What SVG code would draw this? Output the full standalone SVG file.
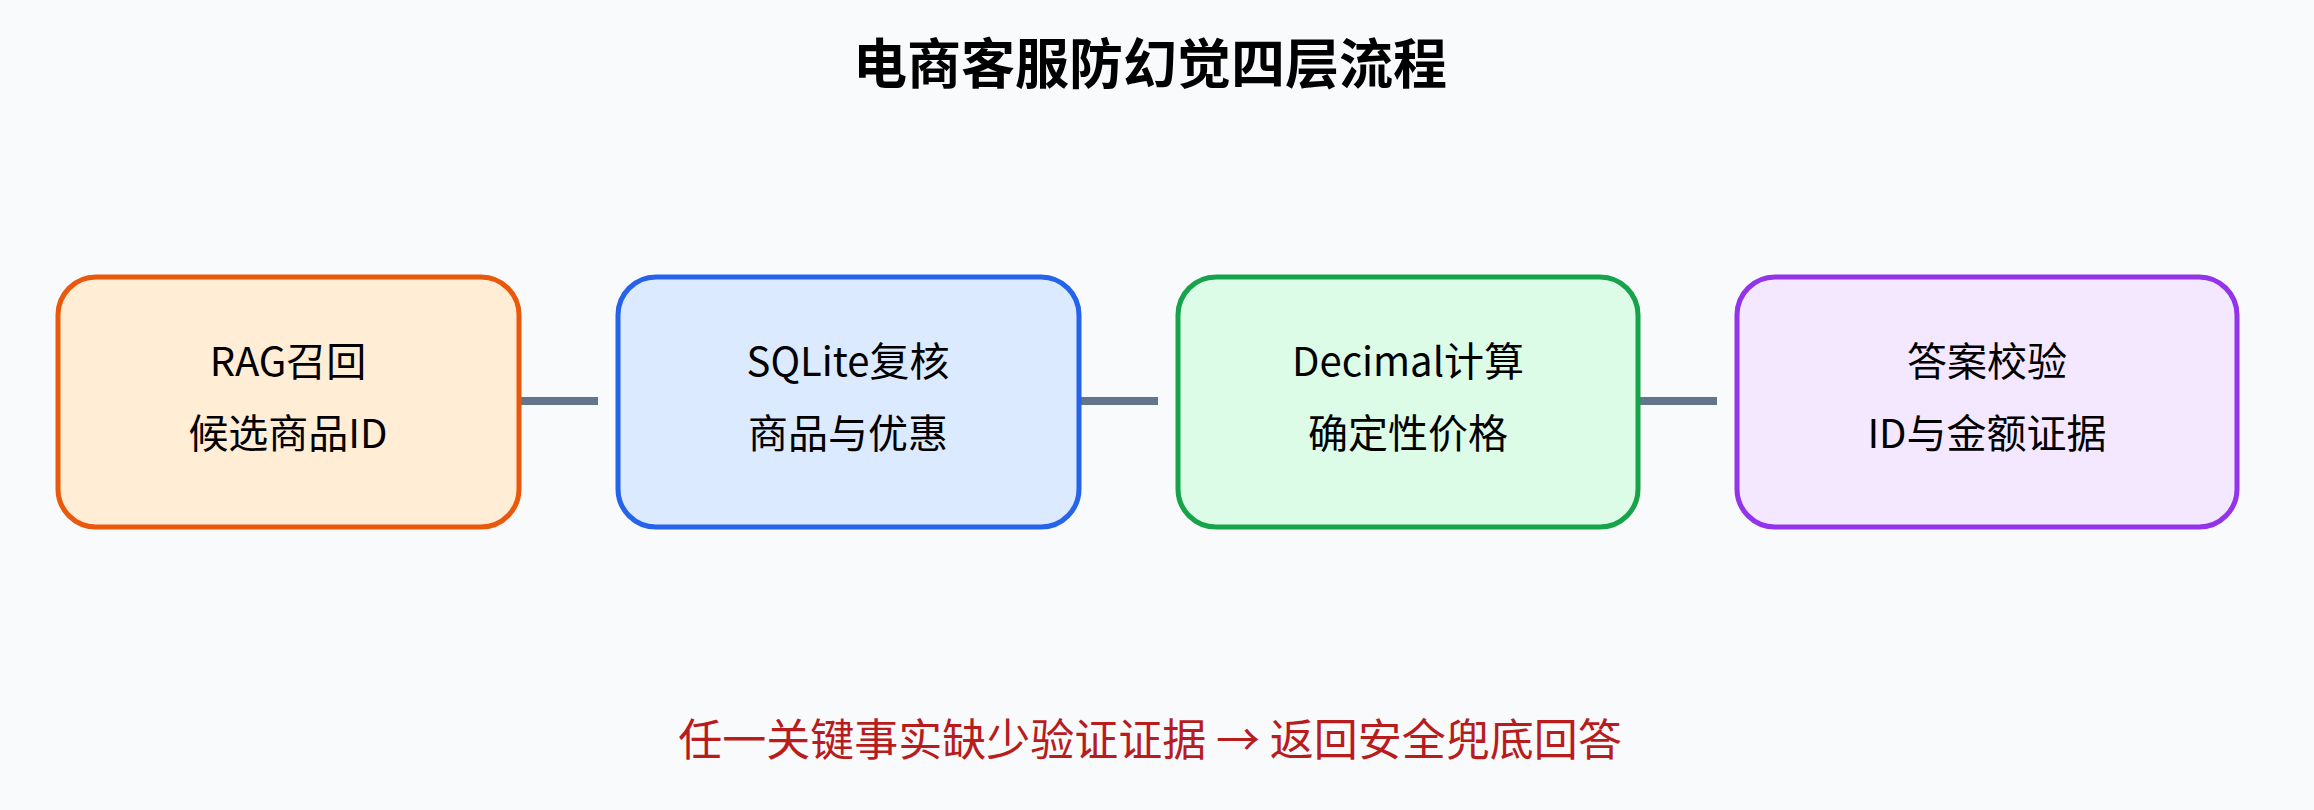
<svg xmlns="http://www.w3.org/2000/svg" width="2314" height="810" viewBox="0 0 2314 810">
<style>
.t{font-family:"Noto Sans CJK SC","Noto Sans",sans-serif;text-anchor:middle;fill:#000}
.n{font-size:40px}
.b{stroke-width:5}
</style>
<rect width="2314" height="810" fill="#f8fafc"/>
<text class="t" x="1150" y="84" font-size="54" font-weight="bold">电商客服防幻觉四层流程</text>
<g id="connectors" stroke="#64748b" stroke-width="8">
<line x1="519" y1="401" x2="598" y2="401"/>
<line x1="1079" y1="401" x2="1158" y2="401"/>
<line x1="1638" y1="401" x2="1717" y2="401"/>
</g>
<g id="n1"><rect class="b" x="58" y="277" width="461" height="250" rx="38" fill="#ffedd5" stroke="#ea580c"/>
<text class="t n" x="288" y="376">RAG召回</text><text class="t n" x="288" y="448">候选商品ID</text></g>
<g id="n2"><rect class="b" x="618" y="277" width="461" height="250" rx="38" fill="#dbeafe" stroke="#2563eb"/>
<text class="t n" x="848" y="376">SQLite复核</text><text class="t n" x="848" y="448">商品与优惠</text></g>
<g id="n3"><rect class="b" x="1178" y="277" width="460" height="250" rx="38" fill="#dcfce7" stroke="#16a34a"/>
<text class="t n" x="1408" y="376">Decimal计算</text><text class="t n" x="1408" y="448">确定性价格</text></g>
<g id="n4"><rect class="b" x="1737" y="277" width="500" height="250" rx="38" fill="#f3e8ff" stroke="#9333ea"/>
<text class="t n" x="1987" y="376">答案校验</text><text class="t n" x="1987" y="448">ID与金额证据</text></g>
<text class="t" x="1150" y="756" font-size="44" style="fill:#b91c1c">任一关键事实缺少验证证据 → 返回安全兜底回答</text>
</svg>
